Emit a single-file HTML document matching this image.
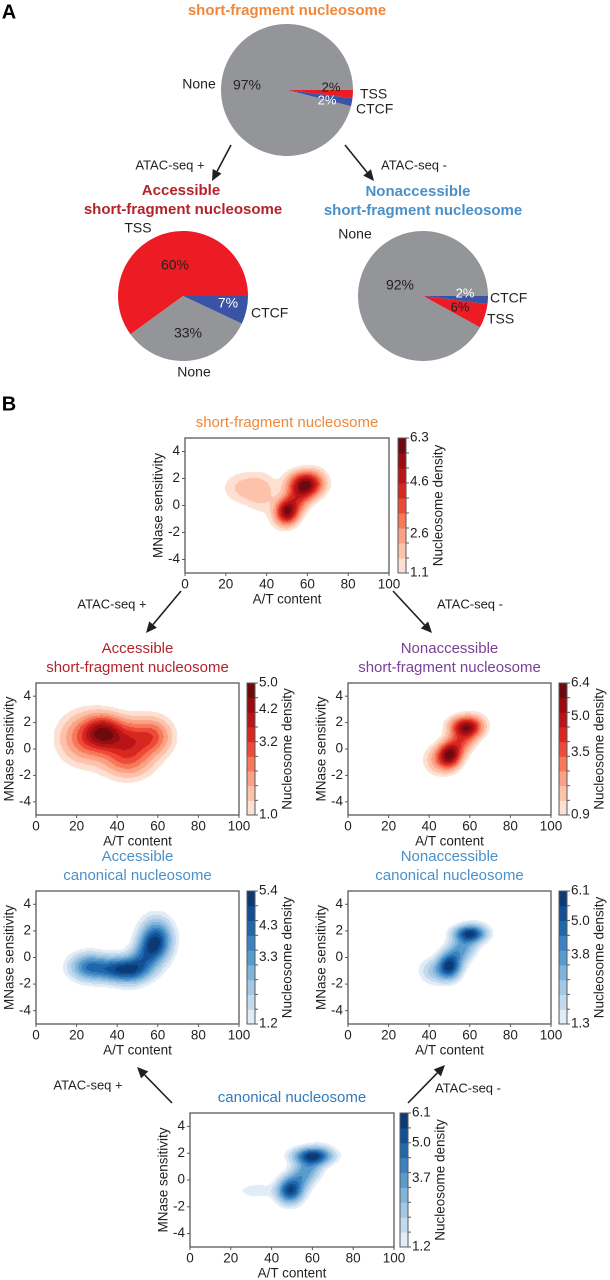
<!DOCTYPE html>
<html><head><meta charset="utf-8">
<style>
html,body{margin:0;padding:0;background:#fff;}
#root{position:relative;width:610px;height:1280px;overflow:hidden;font-family:"Liberation Sans",Arial,sans-serif;}
canvas{position:absolute;}
svg{position:absolute;left:0;top:0;}
</style></head>
<body>
<div id="root">
<svg id="svg" width="610" height="1280"></svg>
</div>
<script>
// ---------- Pie data ----------
const pieTopLabels=["TSS","CTCF","None"];
const pieTopValues=[2,2,97];
const pieAccLabels=["TSS","CTCF","None"];
const pieAccValues=[60,7,33];
const pieNonLabels=["CTCF","TSS","None"];
const pieNonValues=[2,6,92];

// ---------- Density plot data ----------
const xTicks=[0,20,40,60,80,100];
const yTicks=[-4,-2,0,2,4];
// blobs: [A/T center, MNase center, sdX, sdY, weight, corr]
const blobsShort=[[29,1.3,7,0.8,0.2,0],[38,0.9,5,1.0,0.17,0],[59,1.6,5.5,0.6,1.0,0],[50,-0.5,3.5,0.6,0.9,0],[55,0.5,6,1.0,0.65,0.6]];
const blobsAccShort=[[33,1.3,6,0.8,1.0,0],[45,0.7,9,1.0,0.8,0],[24,0.8,8,1.2,0.6,0],[45,-0.9,8,0.9,0.5,0],[58,1.0,6,0.9,0.5,0]];
const blobsNonShort=[[58,1.7,5,0.5,1.0,0],[50,-0.5,3.5,0.6,0.9,0],[55,0.5,6,1.0,0.65,0.6],[45,-0.8,5,0.7,0.3,0]];
const blobsAccCan=[[42,-0.9,8,0.6,1.0,0],[26,-0.7,6,0.65,0.65,0],[59,1.3,5,1.0,0.8,0],[54,0.1,6,1.1,0.6,0.5]];
const blobsNonCan=[[60,1.8,5,0.4,1.0,0],[50,-0.7,3.5,0.6,0.9,0],[55,0.5,6,1.0,0.6,0.6],[43,-1.0,5,0.6,0.3,0]];
const blobsCan=[[60,1.8,6,0.4,1.0,0],[49,-0.8,4,0.6,0.9,0],[56,0.5,6,1.0,0.6,0.6],[33,-0.8,6,0.35,0.15,0]];
const cbShort=["6.3","4.6","2.6","1.1"];
const cbAccShort=["5.0","4.2","3.2","1.0"];
const cbNonShort=["6.4","5.0","3.5","0.9"];
const cbAccCan=["5.4","4.3","3.3","1.2"];
const cbNonCan=["6.1","5.0","3.8","1.3"];
const cbCan=["6.1","5.0","3.7","1.2"];

const NS="http://www.w3.org/2000/svg";
const svg=document.getElementById('svg');
function el(tag,attrs,parent){const e=document.createElementNS(NS,tag);for(const k in attrs)e.setAttribute(k,attrs[k]);(parent||svg).appendChild(e);return e;}
function txt(s,x,y,opt,parent){const t=el('text',Object.assign({x:x,y:y,'font-size':opt.size||12,fill:opt.fill||'#231f20','text-anchor':opt.anchor||'middle','dominant-baseline':'middle','font-weight':opt.weight||'normal'},opt.transform?{transform:opt.transform}:{}),parent);t.textContent=s;return t;}

const pieColors={TSS:'#ed1c24',CTCF:'#3a53a4',None:'#939598'};
function drawPie(name,cx,cy,r,labels,values,startDeg,dir){
  const g=el('g',{});
  
  
  const tot=values.reduce((a,b)=>a+b,0);
  let a0=startDeg;
  labels.forEach((lab,i)=>{
    const sweep=values[i]/tot*360*dir;
    const a1=a0+sweep;
    const p0=[cx+r*Math.cos(a0*Math.PI/180),cy+r*Math.sin(a0*Math.PI/180)];
    const p1=[cx+r*Math.cos(a1*Math.PI/180),cy+r*Math.sin(a1*Math.PI/180)];
    const large=Math.abs(sweep)>180?1:0;
    const p=el('path',{d:`M${cx},${cy}L${p0[0]},${p0[1]}A${r},${r} 0 ${large} ${dir>0?1:0} ${p1[0]},${p1[1]}Z`,fill:pieColors[lab]},g);
    
    
    a0=a1;
  });
}
txt('A',9,13,{size:20,weight:'bold',fill:'#000'});
txt('B',9,405,{size:20,weight:'bold',fill:'#000'});

txt('short-fragment nucleosome',287,11,{size:15,weight:'bold',fill:'#f0873a'});
drawPie('pie-short-fragment',287,90,66,pieTopLabels,pieTopValues,0,1);
txt('None',199,85,{size:14});
txt(pieTopValues[2]+'%',247,86,{size:14});
txt(pieTopValues[0]+'%',331,88,{size:13});
txt(pieTopValues[1]+'%',327,101,{size:13,fill:'#fff'});
txt('TSS',360,95,{size:14,anchor:'start'});
txt('CTCF',356,110,{size:14,anchor:'start'});

function arrow(name,x1,y1,x2,y2){
  const g=el('g',{});
  
  
  const ang=Math.atan2(y2-y1,x2-x1),L=11,W=5;
  const bx=x2-L*Math.cos(ang),by=y2-L*Math.sin(ang);
  el('line',{x1:x1,y1:y1,x2:bx,y2:by,stroke:'#231f20','stroke-width':1.6},g);
  el('path',{d:`M${x2},${y2}L${bx+W*Math.sin(ang)},${by-W*Math.cos(ang)}L${bx-W*Math.sin(ang)},${by+W*Math.cos(ang)}Z`,fill:'#231f20'},g);
}
arrow('arrow-atac-plus-a',231,145,212,181);
arrow('arrow-atac-minus-a',345,145,374,181);
txt('ATAC-seq +',170,166,{size:13});
txt('ATAC-seq -',381,166,{size:13,anchor:'start'});

txt('Accessible',181,191,{size:15,weight:'bold',fill:'#b5232a'});
txt('short-fragment nucleosome',183,210,{size:15,weight:'bold',fill:'#b5232a'});
txt('Nonaccessible',418,192,{size:15,weight:'bold',fill:'#4a90c8'});
txt('short-fragment nucleosome',423,211,{size:15,weight:'bold',fill:'#4a90c8'});

drawPie('pie-accessible',183,296,65,['CTCF','None','TSS'],[pieAccValues[1],pieAccValues[2],pieAccValues[0]],0,1);
txt('TSS',138,229,{size:14});
txt(pieAccValues[0]+'%',175,266,{size:14});
txt(pieAccValues[1]+'%',228,304,{size:14,fill:'#fff'});
txt('CTCF',251,314,{size:14,anchor:'start'});
txt(pieAccValues[2]+'%',188,334,{size:14});
txt('None',194,373,{size:14});

drawPie('pie-nonaccessible',423,296,65,pieNonLabels,pieNonValues,0,1);
txt('None',355,235,{size:14});
txt(pieNonValues[2]+'%',400,286,{size:14});
txt(pieNonValues[0]+'%',465,294,{size:13,fill:'#fff'});
txt(pieNonValues[1]+'%',460,308,{size:13});
txt('CTCF',490,299,{size:14,anchor:'start'});
txt('TSS',487,320,{size:14,anchor:'start'});

const reds=['#fde0d2','#fcc2aa','#fba185','#f7795a','#ee4a3a','#d7271f','#b91519','#990c12','#6e0a0e'];
const blues=['#e1ecf7','#c3d9ee','#a3c8e4','#80b4da','#5a9bcd','#3a82c0','#2068ad','#124f93','#0b3a75'];

function densityPlot(cfg){
  const {name,bx,by,bw,bh,titles,tcolor,blobs,cmap,cbLabels,cbx}=cfg;
  const g=el('g',{});
  
  
  const xs=v=>bx+v/100*bw, ys=v=>by+bh-(v+5)/10*bh;
  const cv=document.createElement('canvas');
  cv.width=bw;cv.height=bh;cv.style.left=bx+'px';cv.style.top=by+'px';
  
  
  document.getElementById('root').insertBefore(cv,svg);
  const ctx=cv.getContext('2d');
  const vals=[];let mx=0;
  for(let j=0;j<bh;j++)for(let i=0;i<bw;i++){
    const X=(i+0.5)/bw*100, Y=5-(j+0.5)/bh*10;
    let d=0;
    blobs.forEach(b=>{const dx=(X-b[0])/b[2],dy=(Y-b[1])/b[3];d+=b[4]*Math.exp(-0.5*(dx*dx+dy*dy-2*b[5]*dx*dy)/(1-b[5]*b[5]));});
    vals.push(d);if(d>mx)mx=d;
  }
  const img=ctx.createImageData(bw,bh);
  const nL=cmap.length;
  vals.forEach((d,k)=>{
    const t=d/mx;let r=255,gg=255,b=255;
    if(t>0.06){let lv=Math.min(nL-1,Math.floor(Math.pow((t-0.06)/0.94,0.8)*nL));const c=cmap[lv];r=parseInt(c.substr(1,2),16);gg=parseInt(c.substr(3,2),16);b=parseInt(c.substr(5,2),16);}
    img.data[k*4]=r;img.data[k*4+1]=gg;img.data[k*4+2]=b;img.data[k*4+3]=255;
  });
  ctx.putImageData(img,0,0);
  el('rect',{x:bx,y:by,width:bw,height:bh,fill:'none',stroke:'#58595b','stroke-width':1.3},g);
  titles.forEach((t,i)=>txt(t,bx+bw/2,by-15-(titles.length-1-i)*19,{size:15,fill:tcolor},g));
  yTicks.forEach(v=>{el('line',{x1:bx-3,x2:bx,y1:ys(v),y2:ys(v),stroke:'#58595b'},g);txt(String(v),bx-5,ys(v),{size:13.5,anchor:'end'},g);});
  xTicks.forEach(v=>{el('line',{x1:xs(v),x2:xs(v),y1:by+bh,y2:by+bh+3,stroke:'#58595b'},g);txt(String(v),xs(v),by+bh+12,{size:13.5},g);});
  txt('A/T content',bx+bw/2,by+bh+27,{size:13.5},g);
  txt('MNase sensitivity',bx-26,by+bh/2,{size:13.5,transform:`rotate(-90 ${bx-26} ${by+bh/2})`},g);
  const n=nL, bandH=bh/n;
  for(let k=0;k<n;k++){el('rect',{x:cbx,y:by+bh-(k+1)*bandH,width:8,height:bandH+0.5,fill:cmap[k]},g);}
  el('rect',{x:cbx,y:by,width:8,height:bh,fill:'none',stroke:'#58595b','stroke-width':1},g);
  for(let k=0;k<=n;k++){el('line',{x1:cbx+8,x2:cbx+11,y1:by+bh-k*bandH,y2:by+bh-k*bandH,stroke:'#58595b'},g);}
  const vmax=parseFloat(cbLabels[0]),vmin=parseFloat(cbLabels[cbLabels.length-1]);
  cbLabels.forEach(l=>{const v=parseFloat(l);txt(l,cbx+12,by+bh-(v-vmin)/(vmax-vmin)*bh,{size:13.5,anchor:'start'},g);});
  txt('Nucleosome density',cbx+41,by+bh/2,{size:13.5,transform:`rotate(-90 ${cbx+41} ${by+bh/2})`},g);
}
densityPlot({name:'plot-short-fragment',bx:185,by:438,bw:204,bh:135,titles:['short-fragment nucleosome'],tcolor:'#f0873a',blobs:blobsShort,cmap:reds,cbLabels:cbShort,cbx:398});
arrow('arrow-atac-plus-b',181,591,146,633);
arrow('arrow-atac-minus-b',393,591,432,633);
txt('ATAC-seq +',112,605,{size:13});
txt('ATAC-seq -',437,605,{size:13,anchor:'start'});
densityPlot({name:'plot-accessible-short',bx:36,by:683,bw:203,bh:132,titles:['Accessible','short-fragment nucleosome'],tcolor:'#b5232a',blobs:blobsAccShort,cmap:reds,cbLabels:cbAccShort,cbx:247});
densityPlot({name:'plot-nonaccessible-short',bx:348,by:683,bw:203,bh:132,titles:['Nonaccessible','short-fragment nucleosome'],tcolor:'#7b3f98',blobs:blobsNonShort,cmap:reds,cbLabels:cbNonShort,cbx:559});
densityPlot({name:'plot-accessible-canonical',bx:36,by:891,bw:203,bh:133,titles:['Accessible','canonical nucleosome'],tcolor:'#4a90c8',blobs:blobsAccCan,cmap:blues,cbLabels:cbAccCan,cbx:247});
densityPlot({name:'plot-nonaccessible-canonical',bx:348,by:891,bw:203,bh:133,titles:['Nonaccessible','canonical nucleosome'],tcolor:'#4a90c8',blobs:blobsNonCan,cmap:blues,cbLabels:cbNonCan,cbx:559});
arrow('arrow-atac-plus-c',172,1103,137,1067);
arrow('arrow-atac-minus-c',408,1103,445,1065);
txt('ATAC-seq +',88,1086,{size:13});
txt('ATAC-seq -',435,1089,{size:13,anchor:'start'});
densityPlot({name:'plot-canonical',bx:190,by:1113,bw:204,bh:134,titles:['canonical nucleosome'],tcolor:'#2f7bbf',blobs:blobsCan,cmap:blues,cbLabels:cbCan,cbx:400});
</script>
</body></html>
